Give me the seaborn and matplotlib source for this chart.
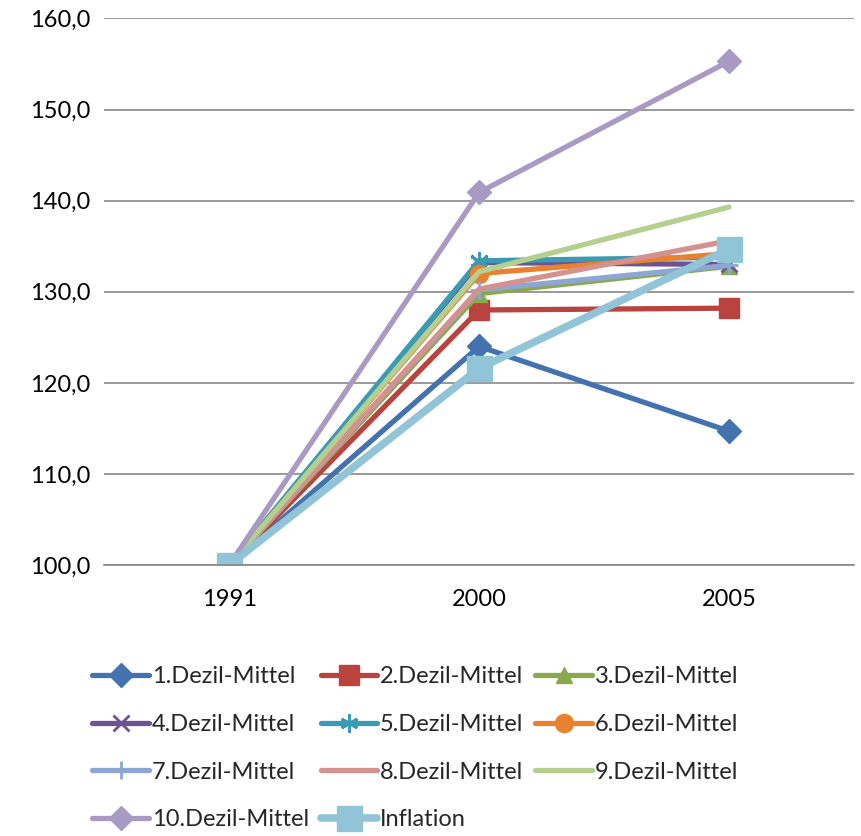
import matplotlib
matplotlib.use("Agg")
import matplotlib.pyplot as plt
import seaborn as sns
import pandas as pd
from matplotlib.ticker import FuncFormatter

years = ["1991", "2000", "2005"]
series_names = ["1.Dezil-Mittel", "2.Dezil-Mittel", "3.Dezil-Mittel", "4.Dezil-Mittel",
                "5.Dezil-Mittel", "6.Dezil-Mittel", "7.Dezil-Mittel", "8.Dezil-Mittel",
                "9.Dezil-Mittel", "10.Dezil-Mittel", "Inflation"]
d1 = [100.0, 124.0, 114.7]
d2 = [100.0, 128.0, 128.2]
d3 = [100.0, 129.8, 132.8]
d4 = [100.0, 133.2, 133.0]
d5 = [100.0, 133.4, 133.8]
d6 = [100.0, 132.0, 134.2]
d7 = [100.0, 130.2, 132.9]
d8 = [100.0, 130.3, 135.6]
d9 = [100.0, 132.2, 139.3]
d10 = [100.0, 140.9, 155.3]
infl = [100.0, 121.6, 134.7]
values = [d1, d2, d3, d4, d5, d6, d7, d8, d9, d10, infl]

colors = ["#4472AE", "#B8433F", "#8AA94C", "#6E5392", "#3A9BB2", "#E9822F",
          "#8DA6D3", "#D3918F", "#B5CF8F", "#A99AC3", "#92C4D8"]
markers = ["D", "s", "^", "x", (6, 2, 0), "o", "+", None, None, "D", "s"]
msizes = [12, 14, 12, 11, 13, 13, 13, 0, 0, 12, 18]
lwidths = [3.8, 3.8, 3.8, 3.8, 3.8, 3.8, 3.8, 3.8, 3.8, 3.8, 5.5]

rows = []
for name, vals in zip(series_names, values):
    for y, v in zip(years, vals):
        rows.append({"Jahr": y, "Wert": v, "Reihe": name})
df = pd.DataFrame(rows)

sns.set_theme(style="white")
plt.rcParams['font.family'] = ['Lato', 'DejaVu Sans']

fig = plt.figure(figsize=(8.61, 8.36), dpi=100)
ax = fig.add_axes([0.121, 0.324, 0.871, 0.654])

handles = {}
for name, c, m, ms, lw in zip(series_names, colors, markers, msizes, lwidths):
    sub = df[df["Reihe"] == name]
    kw = dict(marker=m, markersize=ms, markeredgecolor=c, markerfacecolor=c,
              markeredgewidth=2 if m in ("x", "+", (6, 2, 0)) else 1)
    if m is None:
        kw = {}
    n_before = len(ax.lines)
    sns.lineplot(data=sub, x="Jahr", y="Wert", ax=ax, color=c, linewidth=lw,
                 sort=False, **kw)
    handles[name] = ax.lines[n_before]

ax.set_xlim(-0.5, 2.5)
ax.set_ylim(100, 160)
ax.set_yticks(range(100, 161, 10))
ax.yaxis.set_major_formatter(FuncFormatter(lambda v, p: f"{v:.1f}".replace(".", ",")))
ax.grid(axis="y", color="#878787", linewidth=1.2)
ax.set_axisbelow(True)
for s in ["top", "right", "left"]:
    ax.spines[s].set_visible(False)
ax.spines["bottom"].set_color("#878787")
ax.spines["bottom"].set_linewidth(1.2)
ax.set_xlabel("")
ax.set_ylabel("")
ax.tick_params(axis="both", length=0, labelsize=17, colors="black")
ax.tick_params(axis="y", pad=10)
ax.tick_params(axis="x", pad=17)

# row-major legend order (matplotlib fills columns first)
order = [0, 3, 6, 9, 1, 4, 7, 10, 2, 5, 8]
leg_h = [handles[series_names[i]] for i in order]
leg_l = [series_names[i] for i in order]
ax.legend(leg_h, leg_l, loc="upper left", bbox_to_anchor=(-0.016, -0.185), ncol=3,
          frameon=False, fontsize=17, handlelength=2.4, handletextpad=0.12,
          columnspacing=0.5, labelspacing=1.13, borderaxespad=0, borderpad=0)

fig.savefig("out.png", dpi=100)
